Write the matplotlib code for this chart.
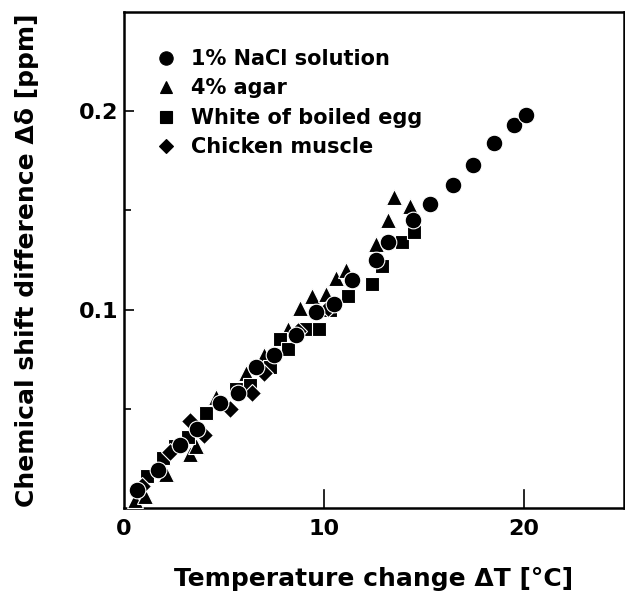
import numpy as np
import matplotlib as mpl
mpl.use('Agg')
import matplotlib.pyplot as plt

plt.rcParams['font.family'] = ['DejaVu Sans']
plt.rcParams['font.weight'] = 'bold'

# 1% NaCl solution
nacl_t = [0.65, 1.7, 2.8, 3.65, 4.8, 5.7, 6.6, 7.5, 8.6, 9.6, 10.5, 11.4,
          12.6, 13.2, 14.45, 15.3, 16.45, 17.45, 18.5, 19.5, 20.1]
nacl_d = [0.009, 0.019, 0.032, 0.040, 0.053, 0.058, 0.071, 0.077, 0.087, 0.099,
          0.103, 0.115, 0.125, 0.134, 0.145, 0.153, 0.163, 0.173, 0.184, 0.193, 0.198]

# 4% agar
agar_t = [0.55, 1.05, 2.1, 3.3, 3.6, 4.6, 6.1, 7.0, 8.2, 8.8, 9.4, 10.1,
          10.6, 11.1, 12.6, 13.2, 13.5, 14.3]
agar_d = [0.004, 0.006, 0.017, 0.027, 0.031, 0.056, 0.068, 0.077, 0.090, 0.101,
          0.107, 0.108, 0.116, 0.120, 0.133, 0.145, 0.157, 0.152]

# white of boiled egg
egg_t = [1.15, 1.95, 2.55, 3.2, 4.1, 5.6, 6.3, 7.3, 7.8, 8.2, 9.1, 9.75,
         10.3, 11.2, 12.4, 12.9, 13.9, 14.5]
egg_d = [0.016, 0.025, 0.031, 0.036, 0.048, 0.060, 0.062, 0.071, 0.085, 0.080,
         0.090, 0.090, 0.100, 0.107, 0.113, 0.122, 0.134, 0.139]

# chicken muscle
chick_t = [0.9, 2.3, 3.3, 4.0, 5.3, 6.4, 7.0, 8.7, 10.2]
chick_d = [0.011, 0.028, 0.044, 0.037, 0.050, 0.058, 0.068, 0.089, 0.101]

labels = ['1% NaCl solution', '4% agar', 'White of boiled egg', 'Chicken muscle']

fig = plt.figure(figsize=(6.25, 5.97), dpi=100)
ax = fig.add_axes([124 / 625, 89 / 597, 500 / 625, 496 / 597])

kw = dict(ls='none', color='black', mec='white', mew=0.8)
ax.plot(nacl_t, nacl_d, marker='o', ms=12, zorder=6, label=labels[0], **kw)
ax.plot(agar_t, agar_d, marker='^', ms=11.5, zorder=3, label=labels[1], **kw)
ax.plot(egg_t, egg_d, marker='s', ms=10, zorder=4, label=labels[2], **kw)
ax.plot(chick_t, chick_d, marker='D', ms=9, zorder=5, label=labels[3], **kw)

ax.set_xlim(0, 25)
ax.set_ylim(0, 0.25)
ax.set_xticks([0, 10, 20])
ax.set_yticks([0.1, 0.2])
ax.set_yticks([0.05, 0.15], minor=True)
ax.set_yticklabels(['0.1', '0.2'])
ax.tick_params(axis='both', which='both', direction='in', labelsize=16,
               width=1.2)
ax.tick_params(axis='x', which='major', length=0, pad=8)
ax.tick_params(axis='y', which='major', length=7, pad=4)
ax.tick_params(axis='y', which='minor', length=5)
# short inward marks at 10 and 20 on the bottom spine
for t in [10, 20]:
    ax.plot([t, t], [0, 0.009], color='black', lw=1.2, zorder=7, clip_on=False)
for s in ax.spines.values():
    s.set_linewidth(1.8)

ax.set_xlabel('Temperature change ΔT [°C]', fontsize=18, fontweight='bold', labelpad=20)
ax.set_ylabel('Chemical shift difference Δδ [ppm]', fontsize=18, fontweight='bold', labelpad=29)

leg = ax.legend(loc='upper left', bbox_to_anchor=(0.05, 0.942), frameon=False,
                fontsize=15, handlelength=0.8, handletextpad=0.8,
                labelspacing=0.45, borderaxespad=0, markerscale=0.8)
for h in leg.legend_handles:
    h.set_markeredgecolor('black')

fig.savefig('out.png', dpi=100)
